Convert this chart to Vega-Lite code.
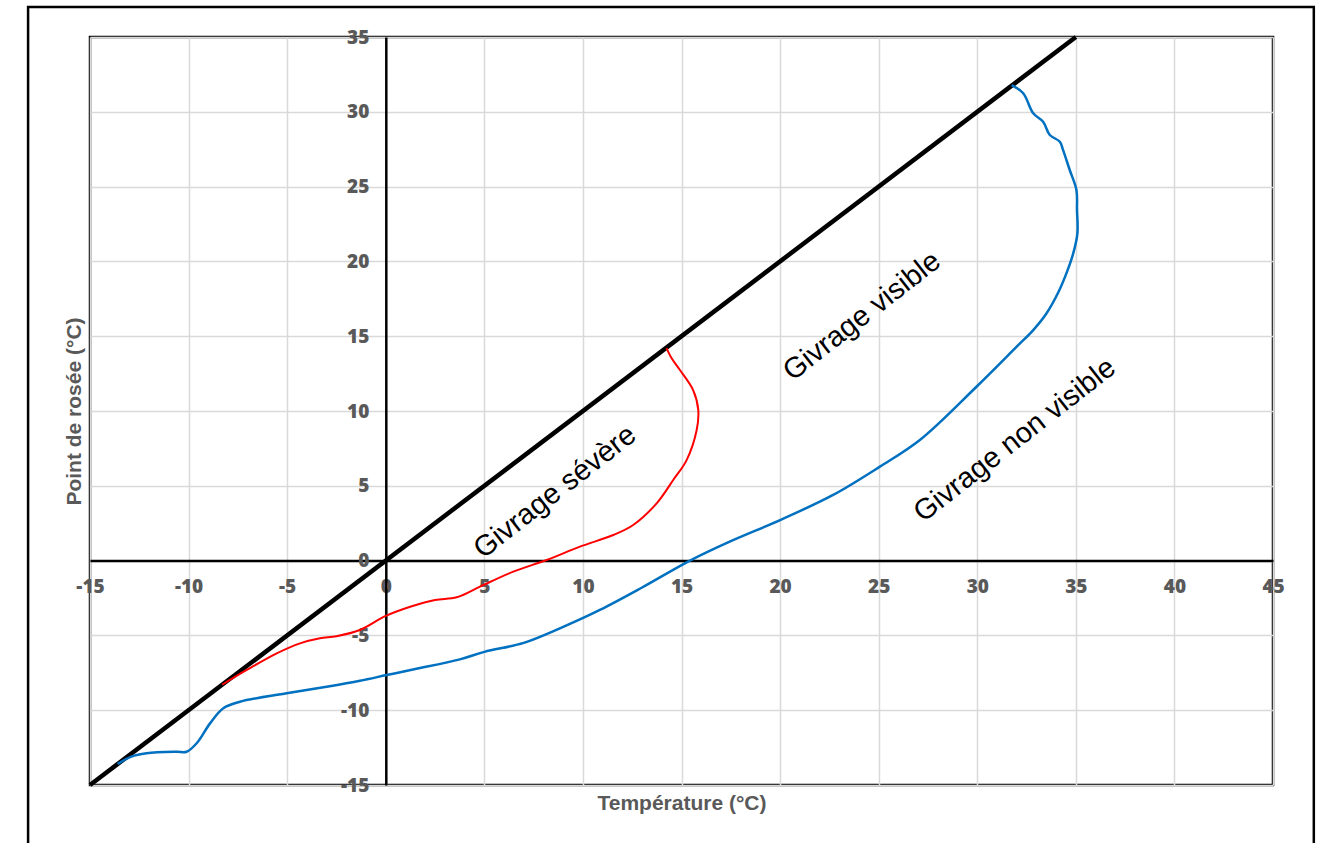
{
  "$schema": "https://vega.github.io/schema/vega-lite/v6.json",
  "width": 1183,
  "height": 748,
  "autosize": {"type": "none"},
  "padding": {"left": 90, "top": 37, "right": 49, "bottom": 58},
  "background": "white",
  "config": {
    "view": {"stroke": "black", "strokeWidth": 2.5},
    "axis": {"gridColor": "#d9d9d9", "gridWidth": 1.5}
  },
  "datasets": {
    "curves": [
      {"series": "diag", "order": 0, "t": -15, "d": -15},
      {"series": "diag", "order": 1, "t": 35, "d": 35},
      {"series": "red", "order": 0, "t": -8.3, "d": -8.3},
      {"series": "red", "order": 1, "t": -7.05, "d": -7.31},
      {"series": "red", "order": 2, "t": -5.53, "d": -6.2},
      {"series": "red", "order": 3, "t": -4.35, "d": -5.53},
      {"series": "red", "order": 4, "t": -3.34, "d": -5.19},
      {"series": "red", "order": 5, "t": -2.5, "d": -5.05},
      {"series": "red", "order": 6, "t": -1.31, "d": -4.64},
      {"series": "red", "order": 7, "t": 0.0, "d": -3.7},
      {"series": "red", "order": 8, "t": 1.2, "d": -3.1},
      {"series": "red", "order": 9, "t": 2.5, "d": -2.63},
      {"series": "red", "order": 10, "t": 3.6, "d": -2.45},
      {"series": "red", "order": 11, "t": 4.78, "d": -1.74},
      {"series": "red", "order": 12, "t": 6.47, "d": -0.74},
      {"series": "red", "order": 13, "t": 8.16, "d": 0.04},
      {"series": "red", "order": 14, "t": 9.85, "d": 0.93},
      {"series": "red", "order": 15, "t": 11.54, "d": 1.71},
      {"series": "red", "order": 16, "t": 12.55, "d": 2.38},
      {"series": "red", "order": 17, "t": 13.74, "d": 3.83},
      {"series": "red", "order": 18, "t": 14.58, "d": 5.39},
      {"series": "red", "order": 19, "t": 15.26, "d": 6.72},
      {"series": "red", "order": 20, "t": 15.77, "d": 8.73},
      {"series": "red", "order": 21, "t": 15.85, "d": 10.07},
      {"series": "red", "order": 22, "t": 15.59, "d": 11.4},
      {"series": "red", "order": 23, "t": 14.92, "d": 12.74},
      {"series": "red", "order": 24, "t": 14.5, "d": 13.52},
      {"series": "red", "order": 25, "t": 14.24, "d": 14.2},
      {"series": "blue", "order": 0, "t": -13.6, "d": -13.6},
      {"series": "blue", "order": 1, "t": -12.9, "d": -13.1},
      {"series": "blue", "order": 2, "t": -12.13, "d": -12.88},
      {"series": "blue", "order": 3, "t": -10.6, "d": -12.78},
      {"series": "blue", "order": 4, "t": -10.1, "d": -12.78},
      {"series": "blue", "order": 5, "t": -9.59, "d": -12.21},
      {"series": "blue", "order": 6, "t": -8.91, "d": -10.88},
      {"series": "blue", "order": 7, "t": -8.24, "d": -9.87},
      {"series": "blue", "order": 8, "t": -7.39, "d": -9.43},
      {"series": "blue", "order": 9, "t": -5.03, "d": -8.87},
      {"series": "blue", "order": 10, "t": -3.0, "d": -8.43},
      {"series": "blue", "order": 11, "t": -1.31, "d": -8.03},
      {"series": "blue", "order": 12, "t": 0.05, "d": -7.65},
      {"series": "blue", "order": 13, "t": 1.5, "d": -7.25},
      {"series": "blue", "order": 14, "t": 3.76, "d": -6.6},
      {"series": "blue", "order": 15, "t": 5.0, "d": -6.1},
      {"series": "blue", "order": 16, "t": 7.0, "d": -5.5},
      {"series": "blue", "order": 17, "t": 8.83, "d": -4.53},
      {"series": "blue", "order": 18, "t": 10.86, "d": -3.3},
      {"series": "blue", "order": 19, "t": 13.0, "d": -1.8},
      {"series": "blue", "order": 20, "t": 15.43, "d": 0.0},
      {"series": "blue", "order": 21, "t": 17.5, "d": 1.3},
      {"series": "blue", "order": 22, "t": 20.0, "d": 2.71},
      {"series": "blue", "order": 23, "t": 22.69, "d": 4.39},
      {"series": "blue", "order": 24, "t": 25.06, "d": 6.28},
      {"series": "blue", "order": 25, "t": 27.09, "d": 8.06},
      {"series": "blue", "order": 26, "t": 29.96, "d": 11.62},
      {"series": "blue", "order": 27, "t": 32.0, "d": 14.3},
      {"series": "blue", "order": 28, "t": 32.84, "d": 15.41},
      {"series": "blue", "order": 29, "t": 33.5, "d": 16.5},
      {"series": "blue", "order": 30, "t": 34.1, "d": 17.9},
      {"series": "blue", "order": 31, "t": 34.55, "d": 19.3},
      {"series": "blue", "order": 32, "t": 34.86, "d": 20.5},
      {"series": "blue", "order": 33, "t": 35.08, "d": 21.88},
      {"series": "blue", "order": 34, "t": 35.06, "d": 23.43},
      {"series": "blue", "order": 35, "t": 35.03, "d": 24.77},
      {"series": "blue", "order": 36, "t": 34.69, "d": 26.11},
      {"series": "blue", "order": 37, "t": 34.35, "d": 27.45},
      {"series": "blue", "order": 38, "t": 34.19, "d": 28.0},
      {"series": "blue", "order": 39, "t": 33.68, "d": 28.45},
      {"series": "blue", "order": 40, "t": 33.34, "d": 29.34},
      {"series": "blue", "order": 41, "t": 32.84, "d": 29.9},
      {"series": "blue", "order": 42, "t": 32.33, "d": 31.24},
      {"series": "blue", "order": 43, "t": 31.74, "d": 31.79}
    ],
    "labels": [
      {"t": 8.58, "d": 4.6, "label": "Givrage sévère"},
      {"t": 24.15, "d": 16.35, "label": "Givrage visible"},
      {"t": 31.9, "d": 8.06, "label": "Givrage non visible"}
    ],
    "frame": [
      {"t1": -18.14, "t2": 47.07, "d1": 37.0, "d2": -19.5}
    ]
  },
  "encoding": {
    "x": {
      "field": "t", "type": "quantitative",
      "scale": {"domain": [-15, 45], "nice": false, "zero": false},
      "axis": {
        "orient": "bottom",
        "offset": -224.4,
        "values": [-15, -10, -5, 0, 5, 10, 15, 20, 25, 30, 35, 40, 45],
        "labelExpr": "datum.value + ''",
        "grid": true,
        "ticks": false,
        "tickSize": 0,
        "domain": true,
        "domainColor": "black",
        "domainWidth": 2.5,
        "labelFont": "Open Sans",
        "labelFontWeight": 800,
        "labelFontSize": 19,
        "labelColor": "#595959",
        "labelPadding": 17,
        "labelOverlap": false,
        "labelFlush": false,
        "labelBound": false,
        "title": "Température (°C)",
        "titleFont": "Liberation Sans",
        "titleFontWeight": "bold",
        "titleFontSize": 21,
        "titleColor": "#595959",
        "titleBaseline": "middle",
        "titleY": 243
      }
    },
    "y": {
      "field": "d", "type": "quantitative",
      "scale": {"domain": [-15, 35], "nice": false, "zero": false},
      "axis": {
        "orient": "left",
        "offset": -295.8,
        "values": [-15, -10, -5, 0, 5, 10, 15, 20, 25, 30, 35],
        "labelExpr": "datum.value + ''",
        "grid": true,
        "ticks": false,
        "tickSize": 0,
        "domain": true,
        "domainColor": "black",
        "domainWidth": 2.5,
        "labelFont": "Open Sans",
        "labelFontWeight": 800,
        "labelFontSize": 19,
        "labelColor": "#595959",
        "labelPadding": 17,
        "labelOverlap": false,
        "labelFlush": false,
        "labelBound": false,
        "title": "Point de rosée (°C)",
        "titleFont": "Liberation Sans",
        "titleFontWeight": "bold",
        "titleFontSize": 21,
        "titleColor": "#595959",
        "titleBaseline": "middle",
        "titleX": -311
      }
    }
  },
  "layer": [
    {
      "data": {"name": "frame"},
      "mark": {"type": "rect", "filled": false, "fillOpacity": 0, "stroke": "black", "strokeWidth": 2.5, "clip": false},
      "encoding": {
        "x": {"field": "t1", "type": "quantitative"},
        "x2": {"field": "t2"},
        "y": {"field": "d1", "type": "quantitative"},
        "y2": {"field": "d2"}
      }
    },
    {
      "data": {"name": "curves"},
      "transform": [{"filter": "datum.series === 'diag'"}],
      "mark": {"type": "line", "color": "black", "strokeWidth": 4.5},
      "encoding": {"order": {"field": "order", "type": "quantitative"}}
    },
    {
      "data": {"name": "curves"},
      "transform": [{"filter": "datum.series === 'blue'"}],
      "mark": {"type": "line", "interpolate": "catmull-rom", "color": "#0070c0", "strokeWidth": 2.5},
      "encoding": {"order": {"field": "order", "type": "quantitative"}}
    },
    {
      "data": {"name": "curves"},
      "transform": [{"filter": "datum.series === 'red'"}],
      "mark": {"type": "line", "interpolate": "catmull-rom", "color": "#ff0000", "strokeWidth": 2},
      "encoding": {"order": {"field": "order", "type": "quantitative"}}
    },
    {
      "data": {"name": "labels"},
      "mark": {"type": "text", "angle": -38, "font": "Liberation Sans", "fontSize": 29, "color": "black", "align": "center", "baseline": "middle"},
      "encoding": {
        "text": {"field": "label"}
      }
    }
  ]
}
